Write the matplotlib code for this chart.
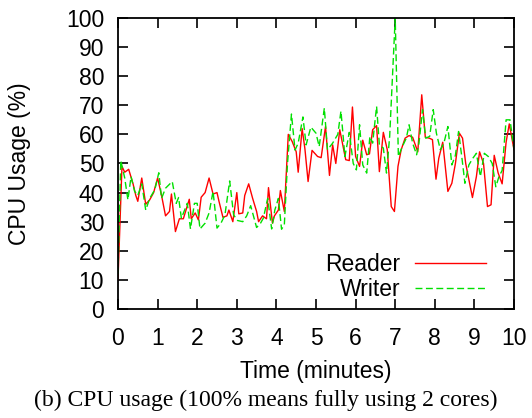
import matplotlib
matplotlib.use("Agg")
import matplotlib.pyplot as plt

plt.rcParams['font.family'] = ['Liberation Sans', 'DejaVu Sans']

# values (time in minutes, cpu in %)
reader_t = [0, 0.1, 0.17, 0.27, 0.38, 0.45, 0.5, 0.6, 0.7, 0.8, 0.9, 1.0, 1.1, 1.2, 1.3,
            1.35, 1.45, 1.55, 1.65, 1.8, 1.85, 1.95, 2.03, 2.1, 2.2, 2.3, 2.4, 2.5, 2.55,
            2.65, 2.75, 2.8, 2.9, 3.0, 3.05, 3.15, 3.2, 3.3, 3.4, 3.5, 3.55, 3.65, 3.75,
            3.8, 3.9, 3.95, 4.05, 4.1, 4.2, 4.3, 4.4, 4.5, 4.55, 4.65, 4.72, 4.8, 4.9,
            5.04, 5.13, 5.24, 5.34, 5.42, 5.5, 5.6, 5.75, 5.84, 5.92, 6.0, 6.1, 6.18,
            6.28, 6.35, 6.43, 6.53, 6.6, 6.7, 6.8, 6.9, 6.98, 7.07, 7.15, 7.25, 7.35,
            7.44, 7.57, 7.67, 7.76, 7.86, 7.94, 8.03, 8.1, 8.2, 8.33, 8.43, 8.52, 8.62,
            8.7, 8.78, 8.87, 8.95, 9.05, 9.13, 9.23, 9.33, 9.42, 9.5, 9.6, 9.7, 9.8,
            9.88, 10.0]
reader_cpu = [10, 49, 47, 48, 43, 39, 37, 45, 36, 37.5, 40, 45, 39, 32, 33.5,
              39.5, 26.6, 31, 31, 37.7, 31, 33, 30.6, 38.4, 40, 45, 39.5, 40, 37,
              31.5, 32, 34, 30, 40, 32.7, 33, 39, 43, 38, 33.5, 30, 32, 31,
              41.7, 29.5, 32, 34, 40.7, 33.5, 60, 57.5, 54, 47, 62, 55, 43.8, 54.5,
              52.4, 52, 62.7, 45.9, 56.4, 50, 61.6, 51.3, 51, 69.4, 52.4, 49, 58,
              53, 53.3, 61.6, 63, 47.2, 60.7, 54.7, 35.2, 33.5, 49, 54.7, 58.7, 59.6,
              59, 54, 73.6, 59, 58.7, 58.2, 44.6, 51.8, 57.3, 40.4, 43.2, 50, 60.4,
              58.7, 50, 43.8, 38.3, 45.5, 54, 50, 35.2, 35.8, 52.8, 46.7, 43, 57.3,
              63.6, 54.7]

writer_t = [0, 0.07, 0.17, 0.25, 0.33, 0.42, 0.5, 0.6, 0.7, 0.8, 0.93, 1.03, 1.1, 1.2,
            1.37, 1.47, 1.53, 1.6, 1.75, 1.83, 1.93, 2.0, 2.07, 2.2, 2.3, 2.4, 2.5, 2.6,
            2.7, 2.82, 2.92, 3.02, 3.15, 3.25, 3.35, 3.5, 3.6, 3.67, 3.78, 3.88, 3.96,
            4.05, 4.13, 4.2, 4.28, 4.38, 4.47, 4.55, 4.67, 4.75, 4.87, 5.0, 5.08, 5.21,
            5.29, 5.42, 5.55, 5.63, 5.73, 5.84, 5.94, 6.02, 6.1, 6.18, 6.28, 6.36, 6.43,
            6.53, 6.6, 6.7, 6.78, 6.86, 7.0, 7.08, 7.18, 7.28, 7.35, 7.44, 7.54, 7.6,
            7.69, 7.77, 7.87, 7.96, 8.04, 8.14, 8.23, 8.33, 8.43, 8.52, 8.6, 8.69, 8.76,
            8.86, 8.96, 9.05, 9.15, 9.25, 9.35, 9.45, 9.54, 9.62, 9.7, 9.8, 9.9, 10.0]
writer_cpu = [12, 51, 45, 37.5, 45.5, 40.4, 39, 43, 34, 38, 41, 46.8, 38, 41.5,
              43.8, 36.3, 38.3, 31.2, 36.3, 27.5, 36.3, 36.3, 27.5, 29.5, 33, 40.4, 27.8, 29.5,
              32.3, 44, 32.3, 30.4, 30, 32, 35.5, 28, 29.5, 31.2, 38, 27.5, 34,
              38, 27.4, 28.9, 50, 67, 54.6, 57, 66, 56.4, 62.5, 60.4, 55.8, 69,
              54.7, 57, 60, 68, 52.4, 60.7, 50, 47.8, 63.3, 49.5, 46.7, 59.3, 57,
              69.6, 56.4, 55.3, 46.7, 59.3, 100, 52.4, 55.8, 58.7, 63.3, 57, 53, 57,
              68.5, 58.7, 59.3, 68.5, 60.4, 54.7, 57, 62.7, 49.5, 52.8, 61, 51.3, 43.2,
              49.5, 51.8, 53.5, 45.5, 53.5, 52.4, 50, 42, 45.5, 47.6, 65, 65, 54.7]

fs = 16.5

fig = plt.figure(figsize=(5.32, 4.18), dpi=100)
ax = fig.add_axes([0.2218, 0.2608, 0.7444, 0.6962])

ax.plot(reader_t, reader_cpu, color='#ff0000', lw=1.0, label='Reader')
ax.plot(writer_t, writer_cpu, color='#00e000', lw=1.0, dashes=(5, 2.5), label='Writer')

ax.set_xlim(0, 10)
ax.set_ylim(0, 100)
ax.set_xticks(range(0, 11))
ax.set_yticks(range(0, 101, 10))
ax.tick_params(direction='in', length=7.5, width=1.2, top=True, right=True,
               labelsize=fs)
ax.tick_params(axis='x', pad=13)
ax.tick_params(axis='y', pad=10)
for s in ax.spines.values():
    s.set_linewidth(1.3)

ax.set_xlabel('Time (minutes)', fontsize=fs, labelpad=7.5)
ax.set_ylabel('CPU Usage (%)', fontsize=fs, labelpad=25)

ax.legend(loc='lower right', bbox_to_anchor=(0.93, 0.028), frameon=False,
          markerfirst=False, fontsize=fs, handlelength=3.1, handletextpad=0.65,
          labelspacing=0.06, borderpad=0, borderaxespad=0)

fig.text(0.5, 0.043, '(b) CPU usage (100% means fully using 2 cores)',
         ha='center', va='center', fontsize=17,
         family=['Liberation Serif', 'DejaVu Serif'])

fig.savefig('out.png', dpi=100)
